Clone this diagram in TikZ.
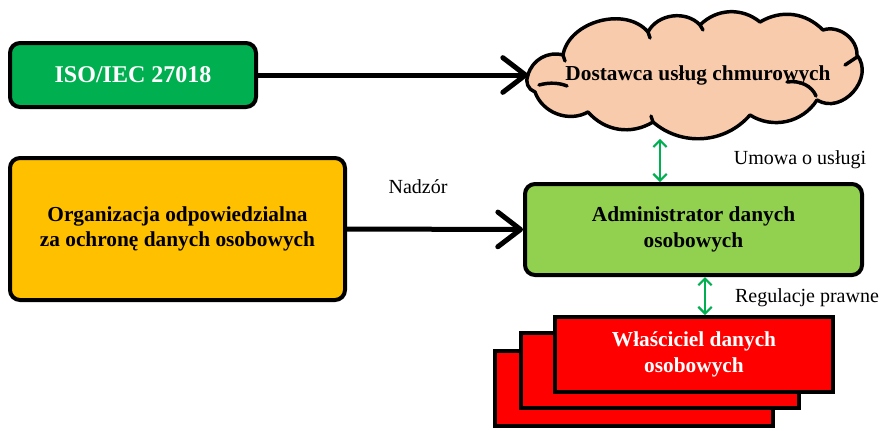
\documentclass[tikz,border=0pt]{standalone}
\usepackage{fontspec}
\setmainfont{Liberation Serif}
\usetikzlibrary{arrows.meta}
\definecolor{isogreen}{HTML}{00B050}
\definecolor{orgorange}{HTML}{FFC000}
\definecolor{admgreen}{HTML}{92D050}
\definecolor{cloudfill}{HTML}{F8CBAD}
\definecolor{ownred}{HTML}{FF0000}
\tikzset{
  rbox/.style={draw=black, line width=3pt, rounded corners=7.5pt, align=center, font=\fontsize{16}{19}\selectfont\bfseries, inner sep=2pt},
  sbox/.style={draw=black, line width=3pt, fill=ownred, minimum width=208.5pt, minimum height=56.25pt, align=center, inner sep=2pt},
  bigarrow/.style={line width=3.75pt, -{Straight Barb[length=17pt,width=26pt,line width=3.75pt,round]}},
  dblarrow/.style={draw=isogreen, line width=1.6pt, {Straight Barb[length=5pt,width=10pt,line width=1.6pt]}-{Straight Barb[length=5pt,width=10pt,line width=1.6pt]}},
  lbl/.style={font=\fontsize{15}{18}\selectfont, inner sep=0pt},
  puff/.style={out=-#1, in=#1-180, relative},
  cloudline/.style={draw=black, line width=2.6pt, line join=round, line cap=round}
}
\begin{document}
\begin{tikzpicture}[x=0.75pt,y=-0.75pt]
\useasboundingbox (0,0) rectangle (885,430);
% cloud outline
\draw[cloudline, fill=cloudfill]
  (528,75) to[puff=50] (535,92) to[puff=50] (588,112) to[puff=40] (653,122)
  to[puff=45] (750,115) to[puff=45] (817,100) to[puff=80, looseness=1.25] (857,55)
  to[puff=55] (823,30) to[puff=38] (760,22) to[puff=42] (700,25)
  to[puff=55] (648,32) to[puff=65] (563,55) to[puff=45] cycle;
\draw[cloudline] (539,85) .. controls (550,82) and (560,83) .. (567,86);
\draw[cloudline] (845,65) -- (857,57);
\draw[cloudline] (787,82) .. controls (800,80) and (812,86) .. (816,96);
\draw[cloudline] (653,122) -- (651,116);
\draw[cloudline] (700,25) -- (703,30);
\draw[cloudline] (648,32) -- (650,38);
\draw[cloudline] (563,55) -- (565,61);
% nodes
\node[rbox, fill=isogreen, text=white, minimum width=184.5pt, minimum height=48pt, font=\fontsize{18}{21}\selectfont\bfseries] (iso) at (133,75) {ISO/IEC 27018};
\node[minimum width=255pt, minimum height=93.75pt, inner sep=0pt, outer sep=0pt, font=\fontsize{16}{19}\selectfont\bfseries] (cloud) at (698,75) {Dostawca usług chmurowych};
\node[rbox, fill=orgorange, minimum width=251.25pt, minimum height=106.5pt] (org) at (177.5,229) {Organizacja odpowiedzialna\\za ochronę danych osobowych};
\node[rbox, fill=admgreen, minimum width=252.75pt, minimum height=68.25pt] (adm) at (693.5,229.5) {Administrator danych\\osobowych};
% stacked owners
\node[sbox] (own3) at (634,388.5) {};
\node[sbox] (own2) at (659.5,370.5) {};
\node[sbox, text=white, font=\fontsize{16}{19}\selectfont\bfseries] (own1) at (694,354.5) {Właściciel danych\\osobowych};
% arrows
\draw[bigarrow] (iso.east) -- (cloud.west);
\draw[bigarrow] (org.east) -- (adm.west);
\coordinate (xa) at (660,0);
\coordinate (xb) at (705,0);
\draw[dblarrow] (adm.north -| xa) -- ([yshift=-1pt]cloud.south -| xa);
\draw[dblarrow] (adm.south -| xb) -- (own1.north -| xb);
% labels
\node[lbl] (nadzor) at (418,187) {Nadzór};
\node[lbl] (umowa) at (800,160) {Umowa o usługi};
\node[lbl] (regul) at (807,298) {Regulacje prawne};
\end{tikzpicture}
\end{document}
